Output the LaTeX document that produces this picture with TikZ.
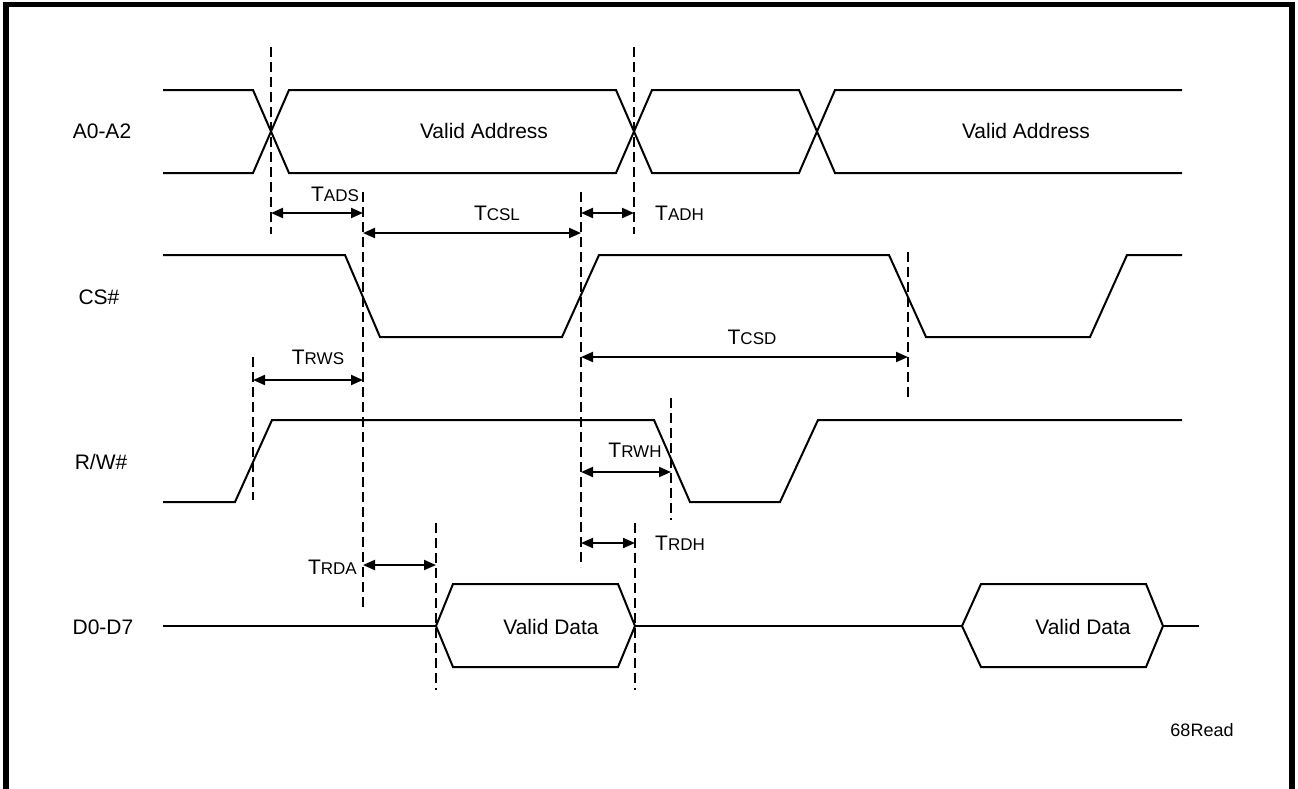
\documentclass[tikz,border=0pt]{standalone}
\usepackage{fontspec}
\setmainfont{Liberation Sans}
\usetikzlibrary{arrows.meta}
\newcommand\tmg[2]{{\fontsize{21}{24}\selectfont #1}{\fontsize{17}{19}\selectfont #2}}
\begin{document}
\begin{tikzpicture}[x=1pt,y=-1pt,
  sig/.style={line width=2pt, line join=miter},
  vdash/.style={line width=1.8pt, dash pattern=on 10pt off 5pt},
  dim/.style={line width=2pt, {Triangle[length=12pt,width=10pt]}-{Triangle[length=12pt,width=10pt]}},
  lbl/.style={font=\fontsize{21}{24}\selectfont, inner sep=0pt},
  tl/.style={inner sep=0pt}]
\useasboundingbox (0,0) rectangle (1298,788);
% frame
\draw[line width=5.5pt] (6,800) -- (6,4.5) -- (1292,4.5) -- (1292,800);

% signal names
\node[lbl] (nA) at (102,131) {A0-A2};
\node[lbl] (nCS) at (99,297) {CS\#};
\node[lbl] (nRW) at (101,462) {R/W\#};
\node[lbl] (nD) at (103,627) {D0-D7};

% A0-A2
\draw[sig] (163,90)--(253,90)--(289,173)--(616,173)--(652,90)--(799,90)--(835,173)--(1182,173);
\draw[sig] (163,173)--(253,173)--(289,90)--(616,90)--(652,173)--(799,173)--(835,90)--(1182,90);
\node[lbl] (va1) at (484,131) {Valid Address};
\node[lbl] (va2) at (1026,131) {Valid Address};

% CS#
\draw[sig] (163,255)--(345,255)--(380,337)--(562,337)--(599,255)--(889,255)--(926,337)--(1090,337)--(1127,255)--(1182,255);

% R/W#
\draw[sig] (163,502)--(235,502)--(272,420)--(654,420)--(690,502)--(780,502)--(818,420)--(1182,420);

% D0-D7
\draw[sig] (163,626)--(436,626);
\draw[sig] (436,626)--(453,584)--(618,584)--(635,626)--(618,667)--(453,667)--cycle;
\draw[sig] (635,626)--(962,626);
\draw[sig] (962,626)--(981,584)--(1146,584)--(1163,626)--(1146,667)--(981,667)--cycle;
\draw[sig] (1163,626)--(1199,626);
\node[lbl] (vd1) at (551,627) {Valid Data};
\node[lbl] (vd2) at (1083,627) {Valid Data};

% dashed reference lines
\coordinate (d1t) at (271,47);  \coordinate (d1b) at (271,234);
\coordinate (d2t) at (634,47);  \coordinate (d2b) at (634,234);
\coordinate (d3t) at (363,192); \coordinate (d3b) at (363,608);
\coordinate (d4t) at (581,192); \coordinate (d4b) at (581,567);
\coordinate (d5t) at (908,252); \coordinate (d5b) at (908,397);
\coordinate (d6t) at (253,357); \coordinate (d6b) at (253,500);
\coordinate (d7t) at (671,398); \coordinate (d7b) at (671,520);
\coordinate (d8t) at (635,523); \coordinate (d8b) at (635,690);
\coordinate (d9t) at (436,523); \coordinate (d9b) at (436,690);
\foreach \i in {1,...,9} \draw[vdash] (d\i t) -- (d\i b);

% dimension arrows
\coordinate (adsL) at (271,213); \coordinate (adsR) at (363,213);
\coordinate (cslL) at (363,233); \coordinate (cslR) at (581,233);
\coordinate (adhL) at (581,213); \coordinate (adhR) at (634,213);
\coordinate (csdL) at (581,357); \coordinate (csdR) at (908,357);
\coordinate (rwsL) at (253,380); \coordinate (rwsR) at (363,380);
\coordinate (rwhL) at (581,472); \coordinate (rwhR) at (671,472);
\coordinate (rdhL) at (581,543); \coordinate (rdhR) at (635,543);
\coordinate (rdaL) at (363,565); \coordinate (rdaR) at (436,565);
\draw[dim] (adsL) -- (adsR);
\draw[dim] (cslL) -- (cslR);
\draw[dim] (adhL) -- (adhR);
\draw[dim] (csdL) -- (csdR);
\draw[dim] (rwsL) -- (rwsR);
\draw[dim] (rwhL) -- (rwhR);
\draw[dim] (rdhL) -- (rdhR);
\draw[dim] (rdaL) -- (rdaR);

% timing labels
\node[tl] (tads) at (335,194) {\tmg{T}{ADS}};
\node[tl] (tcsl) at (497,213) {\tmg{T}{CSL}};
\node[tl,anchor=west] (tadh) at (655,213) {\tmg{T}{ADH}};
\node[tl] (tcsd) at (752,337) {\tmg{T}{CSD}};
\node[tl] (trws) at (318,357) {\tmg{T}{RWS}};
\node[tl] (trwh) at (635,450) {\tmg{T}{RWH}};
\node[tl,anchor=west] (trdh) at (655,543) {\tmg{T}{RDH}};
\node[tl,anchor=east] (trda) at (357,567) {\tmg{T}{RDA}};

\node[tl,font=\fontsize{18}{20}\selectfont] (ref) at (1202,730) {68Read};
\end{tikzpicture}
\end{document}
